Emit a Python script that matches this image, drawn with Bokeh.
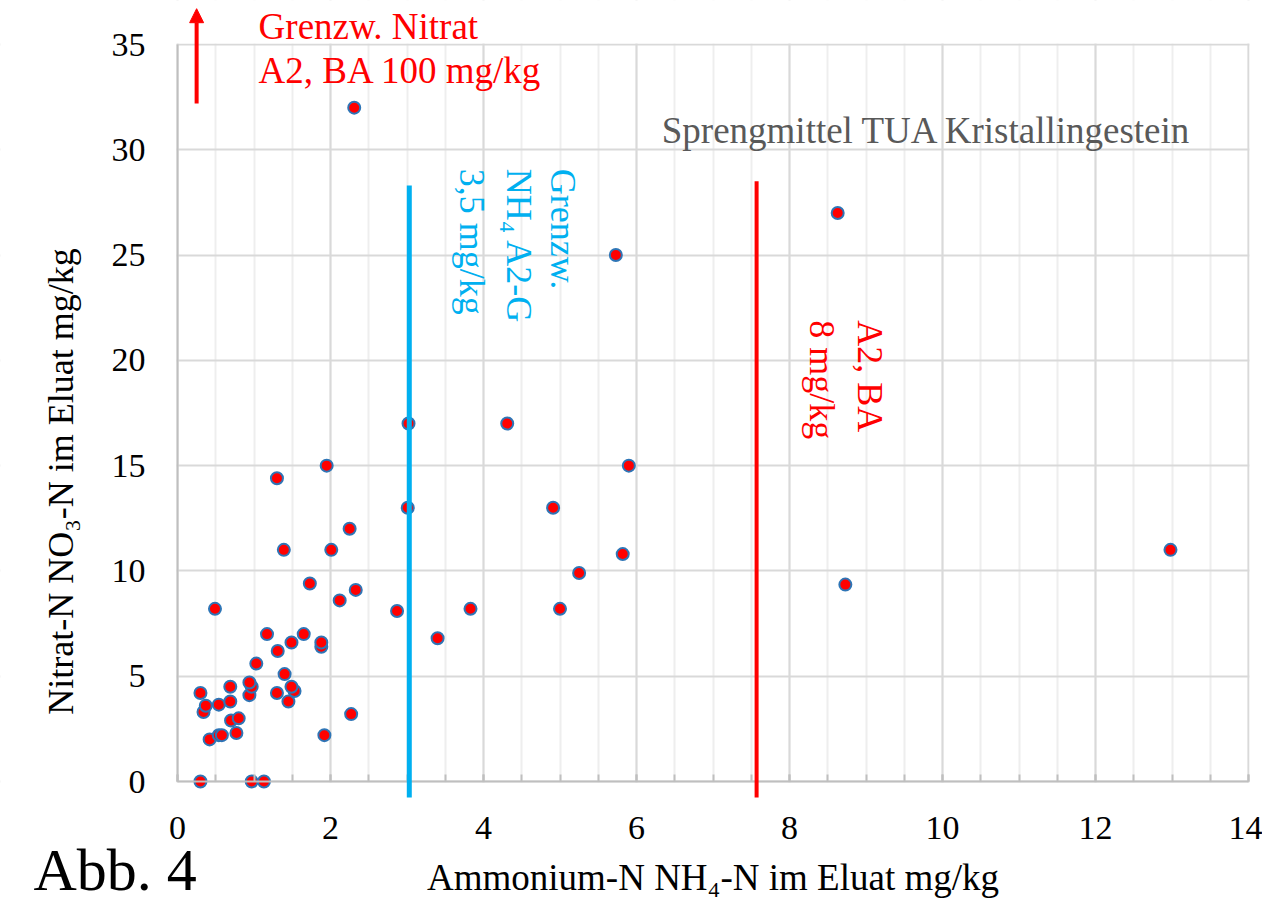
import math
from bokeh.plotting import figure
from bokeh.models import (Range1d, SingleIntervalTicker, Label, Arrow, NormalHead,
                          ColumnDataSource, BoxAnnotation)
from bokeh.embed import file_html
from bokeh.resources import INLINE

# ---- data ----
nh4_n = [0.30, 0.97, 1.13,
         0.42, 0.54, 0.58, 0.77, 1.92,
         0.70, 0.80, 2.27,
         0.34, 0.37, 0.54, 0.69, 1.45,
         0.94, 0.30, 1.30, 1.53,
         0.69, 0.97, 1.49, 0.94,
         1.40, 1.03,
         1.31, 1.88, 1.49, 1.88,
         1.17, 1.65, 3.40,
         2.87, 0.49, 3.83, 5.00,
         2.12, 2.33, 1.73, 8.73, 5.25,
         5.82, 1.39, 2.01, 12.98,
         2.25, 3.01, 4.91,
         1.30, 1.95, 5.90,
         3.02, 4.31,
         5.73, 8.63, 2.31]
no3_n = [0.0, 0.0, 0.0,
         2.0, 2.2, 2.2, 2.3, 2.2,
         2.9, 3.0, 3.2,
         3.3, 3.6, 3.65, 3.8, 3.8,
         4.1, 4.2, 4.2, 4.3,
         4.5, 4.5, 4.5, 4.7,
         5.1, 5.6,
         6.2, 6.4, 6.6, 6.6,
         7.0, 7.0, 6.8,
         8.1, 8.2, 8.2, 8.2,
         8.6, 9.1, 9.4, 9.35, 9.9,
         10.8, 11.0, 11.0, 11.0,
         12.0, 13.0, 13.0,
         14.4, 15.0, 15.0,
         17.0, 17.0,
         25.0, 27.0, 32.0]

x_max = 14
y_max = 35
x_ticks_interval = 2
y_ticks_interval = 5

# limit-line positions as drawn in the picture
nh4_limit_a2g = 3.03
nh4_limit_a2ba = 7.57

SERIF = "Liberation Serif"
RED = "#FF0000"
BLUE = "#00B0F0"

# ---- layout: the frame covers the whole canvas, axes are drawn at x=0 / y=0 ----
W, H = 1262, 905
BOX_L, BOX_R, BOX_T, BOX_B = 177, 1248, 44, 781      # pixel box of the 0..14 x 0..35 area
kx = (BOX_R - BOX_L) / x_max
ky = (BOX_B - BOX_T) / y_max
x_range = Range1d(-BOX_L / kx, (W - BOX_L) / kx)
y_range = Range1d(-(H - BOX_B) / ky, BOX_B / ky)

p = figure(width=W, height=H, output_backend="svg", toolbar_location=None,
           x_range=x_range, y_range=y_range, min_border=0,
           min_border_left=0, min_border_right=0, min_border_top=0, min_border_bottom=0)
p.background_fill_color = "white"
p.border_fill_color = "white"
p.outline_line_color = None

p.xaxis.ticker = SingleIntervalTicker(interval=x_ticks_interval, num_minor_ticks=4)
p.yaxis.ticker = SingleIntervalTicker(interval=y_ticks_interval, num_minor_ticks=0)
p.xgrid.ticker = p.xaxis.ticker
p.ygrid.ticker = p.yaxis.ticker
p.xgrid.bounds = (0, x_max)
p.ygrid.bounds = (0, y_max)

p.xgrid.grid_line_color = "#d9d9d9"
p.xgrid.grid_line_width = 2
p.xgrid.minor_grid_line_color = "#eeeeee"
p.xgrid.minor_grid_line_width = 2
p.ygrid.grid_line_color = "#d9d9d9"
p.ygrid.grid_line_width = 2

# keep the grid inside the 0..14 x 0..35 box
ex, ey = 1.0 / kx, 1.0 / ky
for kw in (dict(bottom=y_max + ey), dict(top=-ey), dict(right=-ex), dict(left=x_max + ex)):
    p.add_layout(BoxAnnotation(fill_color="white", fill_alpha=1.0, line_alpha=0,
                               level="underlay", **kw))

for ax in (p.xaxis, p.yaxis):
    ax.fixed_location = 0
    ax.axis_line_color = "#bfbfbf"
    ax.axis_line_width = 2
    ax.major_label_text_font = SERIF
    ax.major_label_text_font_size = "34px"
    ax.major_label_text_color = "black"

p.xaxis.bounds = (0, x_max)
p.yaxis.bounds = (0, y_max)

p.xaxis.major_tick_in = 7
p.xaxis.major_tick_out = 0
p.xaxis.minor_tick_in = 7
p.xaxis.minor_tick_out = 0
p.xaxis.major_tick_line_color = "#bfbfbf"
p.xaxis.minor_tick_line_color = "#bfbfbf"
p.xaxis.major_tick_line_width = 2
p.xaxis.minor_tick_line_width = 2
p.xaxis.major_label_standoff = 35

p.yaxis.major_tick_in = 0
p.yaxis.major_tick_out = 0
p.yaxis.minor_tick_line_color = None
p.yaxis.major_label_standoff = 32

# ---- limit lines ----
p.add_layout(Arrow(end=None, x_start=nh4_limit_a2g, y_start=28.3, x_end=nh4_limit_a2g, y_end=-0.76,
                   line_color=BLUE, line_width=5))
p.add_layout(Arrow(end=None, x_start=nh4_limit_a2ba, y_start=28.5, x_end=nh4_limit_a2ba, y_end=-0.76,
                   line_color=RED, line_width=4))
p.add_layout(Arrow(end=NormalHead(size=14, fill_color=RED, line_color=RED, line_width=1),
                   x_start=0.25, y_start=32.2, x_end=0.25, y_end=36.7,
                   line_color=RED, line_width=4))

# ---- points ----
src = ColumnDataSource(dict(x=nh4_n, y=no3_n))
p.scatter("x", "y", source=src, size=12, fill_color=RED, line_color="#2E75B6", line_width=2)

# ---- texts ----
def lab(x, y, text, color, size, angle=0.0, align="left", baseline="middle"):
    p.add_layout(Label(x=x, y=y, text=text, text_color=color, text_font=SERIF,
                       text_font_size=size, angle=angle, text_align=align,
                       text_baseline=baseline))

lab(1.06, 35.85, "Grenzw. Nitrat", RED, "37px")
lab(1.06, 33.75, "A2, BA 100 mg/kg", RED, "37px")
lab(6.33, 30.9, "Sprengmittel TUA Kristallingestein", "#595959", "37px")

lab(5.04, 29.1, "Grenzw.", BLUE, "36px", angle=-math.pi / 2)
lab(4.46, 29.1, "NH\u2084 A2-G", BLUE, "36px", angle=-math.pi / 2)
lab(3.85, 29.1, "3,5 mg/kg", BLUE, "36px", angle=-math.pi / 2)

lab(9.05, 21.9, "A2, BA", RED, "36px", angle=-math.pi / 2)
lab(8.42, 21.9, "8 mg/kg", RED, "36px", angle=-math.pi / 2)

# axis titles
lab(x_max / 2, (BOX_B - 877) / ky, "Ammonium-N NH\u2084-N im Eluat mg/kg", "black", "37px",
    align="center")
lab((60 - BOX_L) / kx, (BOX_B - 481) / ky, "Nitrat-N NO\u2083-N im Eluat mg/kg", "black", "36px",
    angle=math.pi / 2, align="center")

# figure number
lab((33 - BOX_L) / kx, (BOX_B - 869) / ky, "Abb. 4", "black", "60px")

open("out.html", "w").write(file_html(p, INLINE))
